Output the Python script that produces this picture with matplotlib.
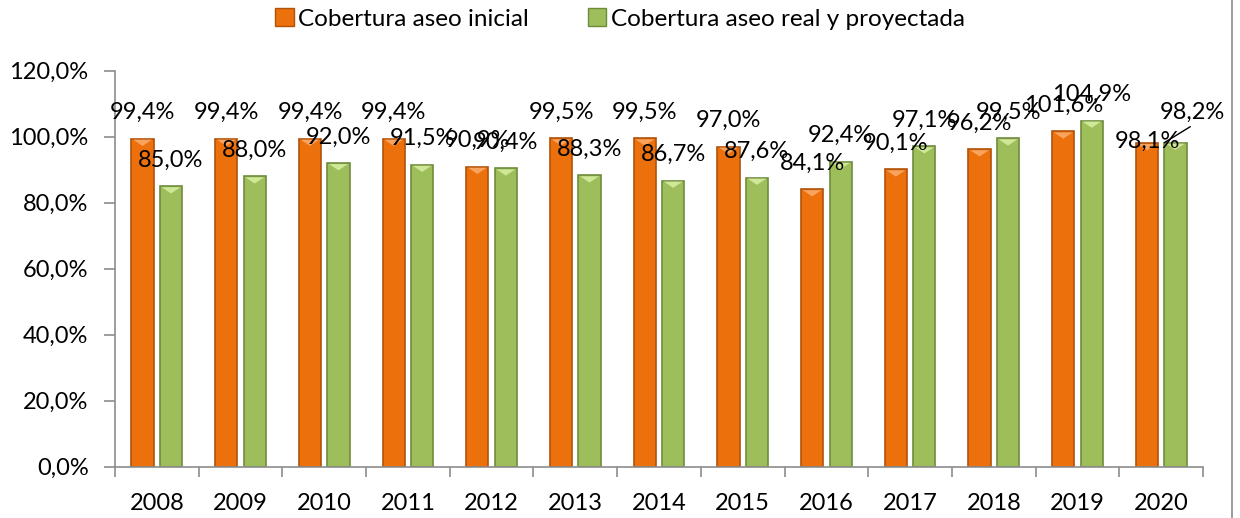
import numpy as np
import matplotlib
matplotlib.use("Agg")
import matplotlib.pyplot as plt
from matplotlib.patches import Patch, Polygon

plt.rcParams["font.family"] = ["Lato", "DejaVu Sans"]

years = ["2008", "2009", "2010", "2011", "2012", "2013", "2014",
         "2015", "2016", "2017", "2018", "2019", "2020"]
inicial = [99.4, 99.4, 99.4, 99.4, 90.9, 99.5, 99.5, 97.0, 84.1, 90.1, 96.2, 101.6, 98.1]
real_proy = [85.0, 88.0, 92.0, 91.5, 90.4, 88.3, 86.7, 87.6, 92.4, 97.1, 99.5, 104.9, 98.2]
yticks = [0, 20, 40, 60, 80, 100, 120]

ORANGE = "#EC700C"
ORANGE_EDGE = "#B0520A"
ORANGE_TOP = "#F9A45E"
GREEN = "#9DBE5B"
GREEN_EDGE = "#6F8C3C"
GREEN_TOP = "#CFE796"
AXIS = "#8C8C8C"
FS = 17


def pct(v):
    return f"{v:.1f}%".replace(".", ",")


fig = plt.figure(figsize=(12.4, 5.18), dpi=100)
ax = fig.add_axes([0.0927, 0.0991, 0.8775, 0.7644])

x = np.arange(len(years))
w = 0.265
off = 0.17
ax.bar(x - off, inicial, w, color=ORANGE, edgecolor=ORANGE_EDGE, linewidth=1.2)
ax.bar(x + off, real_proy, w, color=GREEN, edgecolor=GREEN_EDGE, linewidth=1.2)

# light bevel triangle on top of every bar
tri_h = 2.2
for xs, vals, col in [(x - off, inicial, ORANGE_TOP), (x + off, real_proy, GREEN_TOP)]:
    for xc, v in zip(xs, vals):
        ax.add_patch(Polygon([(xc - w / 2 + 0.02, v - 0.3), (xc + w / 2 - 0.02, v - 0.3),
                              (xc, v - tri_h)], closed=True, color=col, lw=0))

ax.set_xlim(-0.5, len(years) - 0.5)
ax.set_ylim(0, 120)
ax.set_yticks(yticks)
ax.set_yticklabels([pct(v) for v in yticks], fontsize=FS)
ax.set_xticks(x)
ax.set_xticklabels(years, fontsize=FS)
ax.tick_params(axis="x", which="major", length=0, pad=19)
ax.set_xticks(np.arange(-0.5, len(years)), minor=True)
ax.tick_params(axis="x", which="minor", length=7, color=AXIS, width=1.2)
ax.tick_params(axis="y", length=8, color=AXIS, width=1.2, pad=11)
for s in ["top", "right"]:
    ax.spines[s].set_visible(False)
for s in ["left", "bottom"]:
    ax.spines[s].set_color(AXIS)
    ax.spines[s].set_linewidth(1.2)

# data labels, baseline a bit above each bar
last = len(years) - 1
for i, v in enumerate(inicial):
    dy = -3.6 if i == last else 14.2
    ax.annotate(pct(v), (i - off, v), xytext=(0, dy), textcoords="offset points",
                ha="center", va="baseline", fontsize=FS)
for i, v in enumerate(real_proy):
    if i == last:
        ax.annotate(pct(v), (i + off, v), xytext=(11.9, 17), textcoords="offset points",
                    ha="center", va="baseline", fontsize=FS)
        # leader line from the bar's top-left corner up to the moved label
        ax.annotate("", (i + off - w / 2, v), xytext=(18.7, 11.5), textcoords="offset points",
                    arrowprops=dict(arrowstyle="-", color="black", lw=1,
                                    shrinkA=0, shrinkB=0))
    else:
        ax.annotate(pct(v), (i + off, v), xytext=(0, 14.2), textcoords="offset points",
                    ha="center", va="baseline", fontsize=FS)

handles = [Patch(facecolor=ORANGE, edgecolor=ORANGE_EDGE),
           Patch(facecolor=GREEN, edgecolor=GREEN_EDGE)]
fig.legend(handles, ["Cobertura aseo inicial", "Cobertura aseo real y proyectada"],
           loc="center", bbox_to_anchor=(0.5, 0.963), ncol=2, frameon=False,
           fontsize=17.5, handlelength=0.75, handleheight=0.75, handletextpad=0.2,
           columnspacing=2.4)

# right-hand chart border
fig.add_artist(plt.Line2D([0.9935, 0.9935], [0, 1], color=AXIS, lw=1.2))

fig.savefig("out.png", dpi=100)
